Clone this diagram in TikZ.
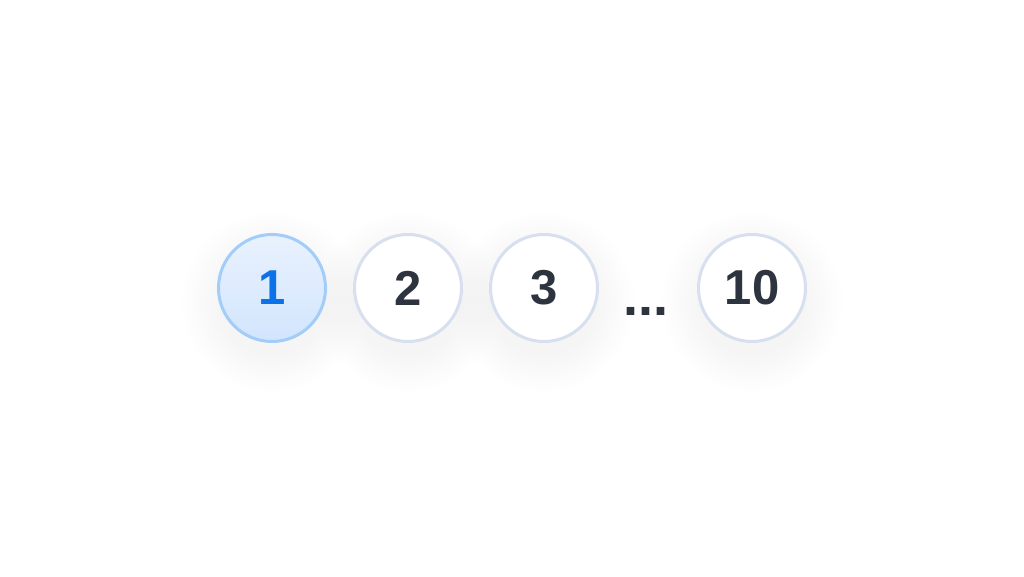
\documentclass[tikz,border=0pt]{standalone}
\usepackage{fontspec}
\setmainfont{Liberation Sans}
\usetikzlibrary{positioning}
\definecolor{pageink}{HTML}{2D3440}
\definecolor{pageline}{HTML}{D8DFEE}
\definecolor{curink}{HTML}{0B72E7}
\definecolor{curline}{HTML}{A3CDF9}
\definecolor{curtop}{HTML}{E9F2FE}
\definecolor{curbot}{HTML}{D2E5FD}
\tikzset{
  page/.style={circle, draw=pageline, line width=3pt, fill=white, minimum size=107pt, inner sep=0pt,
    text=pageink, font=\fontsize{49}{49}\selectfont\bfseries},
  current/.style={page, draw=curline, top color=curtop, bottom color=curbot, text=curink},
}
\begin{document}
\begin{tikzpicture}[x=1pt,y=1pt]
\useasboundingbox (0,0) rectangle (1024,576);
% soft shadows
\foreach \cx in {272,408,544,752}
  \foreach \r in {54,58,...,90}
    \fill[black, opacity=0.0028] (\cx,274) circle (\r);
% pages
\node[current] (p1) at (272,288) {1};
\node[page] (p2) at (408,288) {2};
\node[page] (p3) at (544,288) {3};
\node[page] (p10) at (752,288) {10};
\node[anchor=base, text=pageink, font=\fontsize{54}{54}\selectfont\bfseries, inner sep=0pt] (gap) at (646,260) {...};
\end{tikzpicture}
\end{document}
